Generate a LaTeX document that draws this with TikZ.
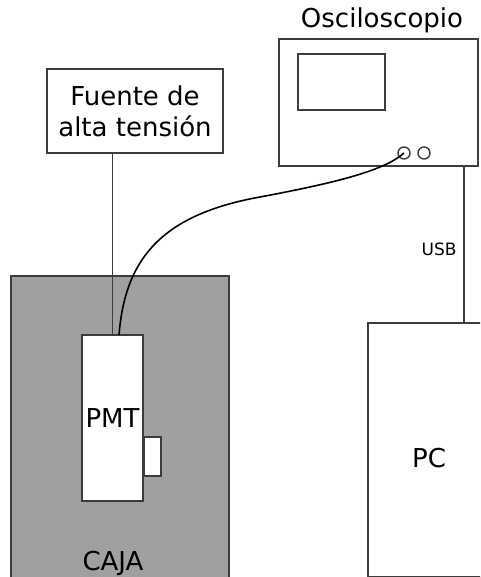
\documentclass[tikz,border=0pt]{standalone}
\usepackage{fontspec}
\setmainfont{DejaVu Sans}
\definecolor{linegray}{HTML}{3C3C3C}
\definecolor{cajagray}{HTML}{A0A0A0}
\begin{document}
\begin{tikzpicture}[x=1pt,y=-1pt]
\tikzset{
  box/.style={draw=linegray, line width=1.5pt, rectangle, inner sep=0pt, outer sep=0pt},
  big/.style={font=\fontsize{26}{31}\selectfont, text=black},
  small/.style={font=\fontsize{17}{20}\selectfont, text=black},
  wire/.style={draw=linegray, line width=1.5pt},
  cable/.style={draw=black, line width=1.6pt},
  jack/.style={draw=linegray, line width=1.4pt, circle, minimum size=12pt, inner sep=0pt, outer sep=0pt}
}
\useasboundingbox (0,0) rectangle (480,577);
\clip (0,0) rectangle (480,577);
\fill[white] (0,0) rectangle (480,577);

% Caja
\node[box, fill=cajagray, minimum width=218pt, minimum height=330pt] (caja) at (120,441) {};
\node[big, anchor=base] (cajatext) at (113,570) {CAJA};

% PMT
\node[box, fill=white, minimum width=61pt, minimum height=166pt, big] (pmt) at (112.5,418) {PMT};
\node[box, fill=white, minimum width=17pt, minimum height=39pt] (side) at (152.5,456.5) {};

% Fuente
\node[box, fill=white, minimum width=176pt, minimum height=84pt, big, align=center] (fuente) at (135,111) {Fuente de\\alta tensión};

% Osciloscopio
\node[box, fill=white, minimum width=199pt, minimum height=127pt] (osc) at (378.5,102.5) {};
\node[box, fill=white, minimum width=87pt, minimum height=56pt] (screen) at (341.5,82) {};
\node[jack] (c1) at (404,153) {};
\node[jack] (c2) at (424,153) {};
\node[big, anchor=base] (osclabel) at (382,28) {Osciloscopio};

% PC
\node[box, fill=white, minimum width=122pt, minimum height=254pt] (pc) at (429,450) {};
\node[big] (pctext) at (429,458) {PC};

% Connections
\draw[wire] (pmt.north) -- (pmt.north |- fuente.south);
\coordinate (usbtop) at ([xshift=-14pt]osc.south east);
\draw[wire] (usbtop) -- (usbtop |- pc.north);
\node[small, anchor=east] (usb) at (460,249) {USB};
\draw[cable] ([xshift=6.5pt]pmt.north) .. controls (125,260) and (160,215) .. (260,197)
  .. controls (340,182) and (385,170) .. (c1.center);
\end{tikzpicture}
\end{document}
